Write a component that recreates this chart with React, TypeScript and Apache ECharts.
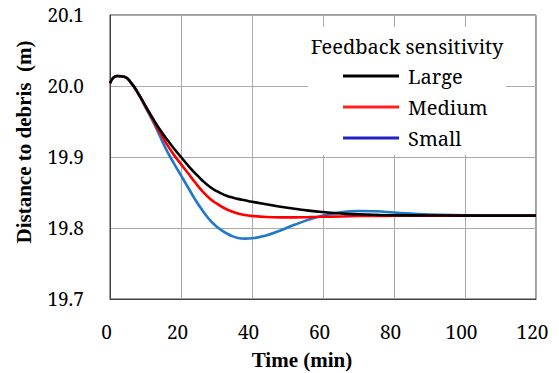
import React, { useEffect, useRef } from "react";
import * as echarts from "echarts";

const times = [0, 2, 4, 6, 8, 10, 12, 14, 16, 18, 20, 22, 24, 26, 28, 30, 32, 34, 36, 38, 40, 44, 48, 52, 56, 60, 65, 70, 75, 80, 90, 100, 110, 120];

const largeValues = [20.004, 20.014, 20.013, 20.004, 19.989, 19.972, 19.955, 19.939, 19.925, 19.912, 19.900, 19.888, 19.877, 19.867, 19.8585, 19.852, 19.847, 19.8435, 19.841, 19.839, 19.837, 19.8335, 19.830, 19.827, 19.8245, 19.8225, 19.8205, 19.8193, 19.8185, 19.818, 19.8176, 19.8175, 19.8175, 19.8175];

const mediumValues = [20.004, 20.014, 20.013, 20.004, 19.989, 19.971, 19.953, 19.935, 19.918, 19.903, 19.890, 19.877, 19.864, 19.852, 19.842, 19.8345, 19.8285, 19.824, 19.8205, 19.8183, 19.817, 19.8155, 19.815, 19.815, 19.8153, 19.8158, 19.8163, 19.8168, 19.817, 19.8172, 19.8175, 19.8175, 19.8175, 19.8175];

const smallValues = [20.004, 20.014, 20.013, 20.004, 19.989, 19.970, 19.951, 19.930, 19.909, 19.891, 19.874, 19.857, 19.840, 19.825, 19.812, 19.802, 19.795, 19.7895, 19.786, 19.785, 19.7855, 19.7895, 19.7965, 19.8045, 19.8118, 19.8175, 19.822, 19.824, 19.8235, 19.8218, 19.819, 19.818, 19.8175, 19.8175];

const xTicks = [0, 20, 40, 60, 80, 100, 120];
const yTicks = [19.7, 19.8, 19.9, 20.0, 20.1];

const seriesNames = ["Large", "Medium", "Small"];
const seriesColors = ["#000000", "#ff0000", "#1f78cc"];
const legendColors = ["#000000", "#ff2020", "#2020cc"];

const FONT = "Noto Serif, serif";
const BOLD_FONT = "Liberation Serif, serif";

export default function App() {
  const ref = useRef<HTMLDivElement>(null);

  useEffect(() => {
    if (!ref.current) return;
    const chart = echarts.init(ref.current, undefined, { renderer: "svg" });
    const pair = (vals: number[]) => times.map((t, i) => [t, vals[i]]);
    const valuesByName: Record<string, number[]> = {
      Large: largeValues,
      Medium: mediumValues,
      Small: smallValues,
    };
    const drawOrder = ["Small", "Medium", "Large"];

    chart.setOption({
      animation: false,
      backgroundColor: "#ffffff",
      textStyle: { fontFamily: FONT },
      grid: {
        left: 110,
        top: 15,
        width: 426,
        height: 284,
        show: true,
        borderColor: "#404040",
        borderWidth: 1,
        backgroundColor: "transparent",
      },
      xAxis: {
        type: "value",
        min: xTicks[0],
        max: xTicks[xTicks.length - 1],
        interval: 20,
        axisLine: { show: true, lineStyle: { color: "#404040", width: 1 } },
        axisTick: { show: false },
        splitLine: { show: true, lineStyle: { color: "#aaaaaa", width: 1 } },
        axisLabel: {
          margin: 23,
          fontSize: 19,
          fontFamily: FONT,
          color: "#000",
          padding: [0, 7, 0, 0],
        },
      },
      yAxis: {
        type: "value",
        min: yTicks[0],
        max: yTicks[yTicks.length - 1],
        interval: 0.1,
        axisLine: { show: true, lineStyle: { color: "#404040", width: 1 } },
        axisTick: { show: false },
        splitLine: { show: true, lineStyle: { color: "#aaaaaa", width: 1 } },
        axisLabel: {
          margin: 26,
          fontSize: 19,
          fontFamily: FONT,
          color: "#000",
          padding: [4, 0, 0, 0],
          formatter: (v: number) => v.toFixed(1),
        },
      },
      legend: {
        orient: "vertical",
        left: 338,
        top: 61,
        itemWidth: 56,
        itemHeight: 14,
        itemGap: 11,
        textStyle: { fontSize: 20, fontFamily: FONT, color: "#000", padding: [0, 0, 0, 4] },
        data: seriesNames.map((n, i) => ({
          name: n,
          icon: "path://M0,6 L56,6 L56,9 L0,9 Z",
          itemStyle: { color: legendColors[i] },
        })),
        z: 5,
      },
      graphic: [
        {
          type: "rect",
          shape: { x: 308, y: 27, width: 198, height: 128 },
          style: { fill: "#ffffff" },
          z: 1,
        },
        {
          type: "text",
          x: 407,
          y: 46,
          style: {
            text: "Feedback sensitivity",
            fontSize: 20,
            fontFamily: FONT,
            fill: "#000",
            align: "center",
            verticalAlign: "middle",
          },
          z: 3,
        },
        {
          type: "text",
          x: 302,
          y: 360,
          style: {
            text: "Time (min)",
            fontSize: 21,
            fontWeight: "bold",
            fontFamily: BOLD_FONT,
            fill: "#000",
            align: "center",
            verticalAlign: "middle",
          },
        },
        {
          type: "text",
          x: 24,
          y: 142,
          rotation: Math.PI / 2,
          style: {
            text: "Distance to debris  (m)",
            fontSize: 21,
            fontWeight: "bold",
            fontFamily: BOLD_FONT,
            fill: "#000",
            align: "center",
            verticalAlign: "middle",
          },
        },
      ],
      series: drawOrder.map((name) => {
        const i = seriesNames.indexOf(name);
        return {
          name,
          type: "line",
          data: pair(valuesByName[name]),
          smooth: 0.5,
          symbol: "none",
          lineStyle: { color: seriesColors[i], width: 2.6 },
          itemStyle: { color: seriesColors[i] },
          z: 3 + drawOrder.indexOf(name),
        };
      }),
    });

    return () => chart.dispose();
  }, []);

  return (
    <div
      ref={ref}
      style={{ position: "absolute", left: 0, top: 0, width: 559, height: 373 }}
    />
  );
}
